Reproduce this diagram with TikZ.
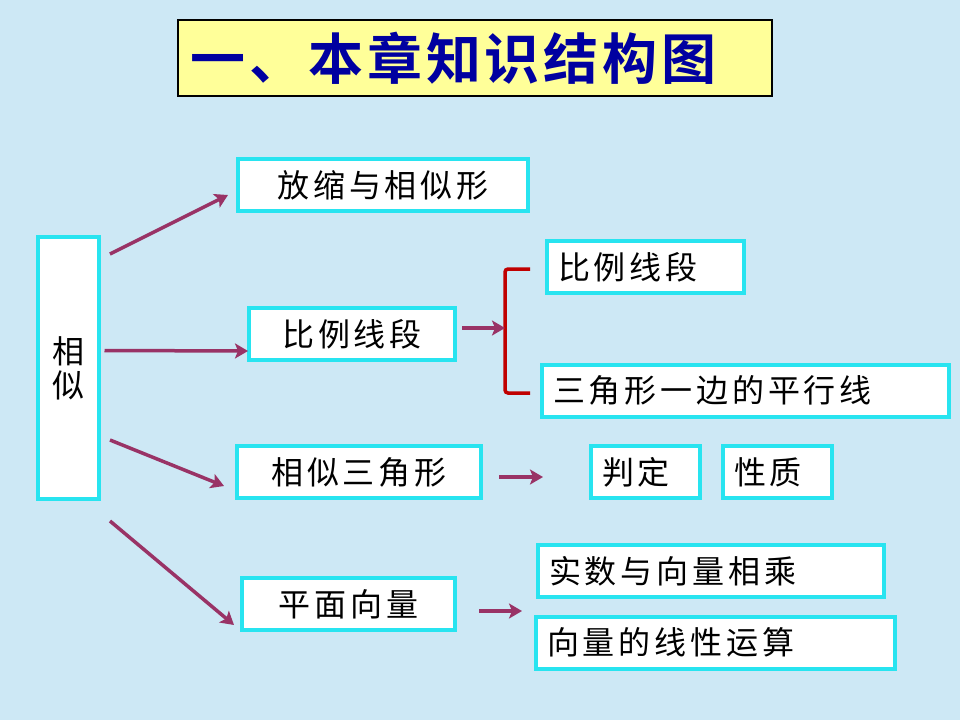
\documentclass[tikz,border=0pt]{standalone}
\usepackage{fontspec}
\setmainfont{Noto Sans CJK SC}
\newfontfamily\cjk[LetterSpace=12]{Noto Sans CJK SC}
\newfontfamily\cjktitle[LetterSpace=7]{Noto Sans CJK SC Bold}
\usetikzlibrary{arrows.meta}
\definecolor{bgblue}{RGB}{205,232,245}
\definecolor{boxcyan}{RGB}{40,228,240}
\definecolor{arrpurple}{RGB}{153,51,102}
\definecolor{brkred}{RGB}{192,0,0}
\definecolor{titleyellow}{RGB}{255,255,153}
\definecolor{titleblue}{RGB}{0,0,160}
\tikzset{
  box/.style={draw=boxcyan, line width=4pt, fill=white, inner sep=0pt,
    font=\cjk\fontsize{32}{34}\selectfont, text=black},
  cbox/.style={box, align=center, minimum height=52pt},
  lbox/.style={box, inner xsep=11pt, align=left, minimum height=52pt, anchor=west},
  arr/.style={draw=arrpurple, line width=3.5pt,
    -{Stealth[length=13pt, width=15pt, inset=3pt]}},
  brk/.style={draw=brkred, line width=3.5pt, rounded corners=3pt}
}
\begin{document}
\begin{tikzpicture}[x=1pt, y=-1pt]
\fill[bgblue] (0,0) rectangle (960,720);
\useasboundingbox (0,0) rectangle (960,720);

% title
\node[draw=black, line width=1.5pt, fill=titleyellow, anchor=west,
  inner xsep=13pt, inner ysep=0pt, text width=568pt, minimum height=76pt, align=left,
  font=\cjktitle\fontsize{55}{58}\selectfont, text=titleblue] (title) at (177,58) {一、本章知识结构图};

% nodes
\node[box, align=center, minimum width=61pt, minimum height=262pt] (sx) at (68,368) {相\\似};
\node[cbox, minimum width=290pt] (fs) at (383,185) {放缩与相似形};
\node[cbox, minimum width=206pt] (bl) at (352,334) {比例线段};
\node[lbox, text width=175pt] (bl2) at (545,267) {比例线段};
\node[lbox, text width=385pt] (sj) at (540,390.5) {三角形一边的平行线};
\node[cbox, minimum width=244pt] (xs) at (359,472) {相似三角形};
\node[lbox, text width=87pt] (pd) at (589,472) {判定};
\node[lbox, text width=87pt] (xz) at (721,472) {性质};
\node[cbox, minimum width=213pt] (pm) at (348.5,604) {平面向量};
\node[lbox, text width=324pt] (ss) at (536,571) {实数与向量相乘};
\node[lbox, text width=337pt] (xl) at (534,642.5) {向量的线性运算};

% bracket
\coordinate (brtr) at (530,269);
\coordinate (brtl) at (505,269);
\coordinate (brbl) at (505,393);
\coordinate (brbr) at (530,393);
\coordinate (brm) at (505,328);
\draw[brk] (brtr) -- (brtl) -- (brbl) -- (brbr);

% free arrow ends
\coordinate (xsend) at (543,477);
\coordinate (pmend) at (522,611);

% arrows
\draw[arr] ([shift={(9.5,19)}]sx.north east) -- ([shift={(-8,-18)}]fs.south west);
\draw[arr] ([shift={(4,-17.5)}]sx.east) -- ([shift={(1,17)}]bl.west);
\draw[arr] ([shift={(9.5,-61)}]sx.south east) -- ([shift={(-11,14)}]xs.west);
\draw[arr] ([shift={(9.5,20)}]sx.south east) -- ([shift={(-6,21)}]pm.west);
\draw[arr] ([shift={(5,-6)}]bl.east) -- (brm);
\draw[arr] ([shift={(16,5)}]xs.east) -- (xsend);
\draw[arr] ([shift={(22,7)}]pm.east) -- (pmend);
\end{tikzpicture}
\end{document}
